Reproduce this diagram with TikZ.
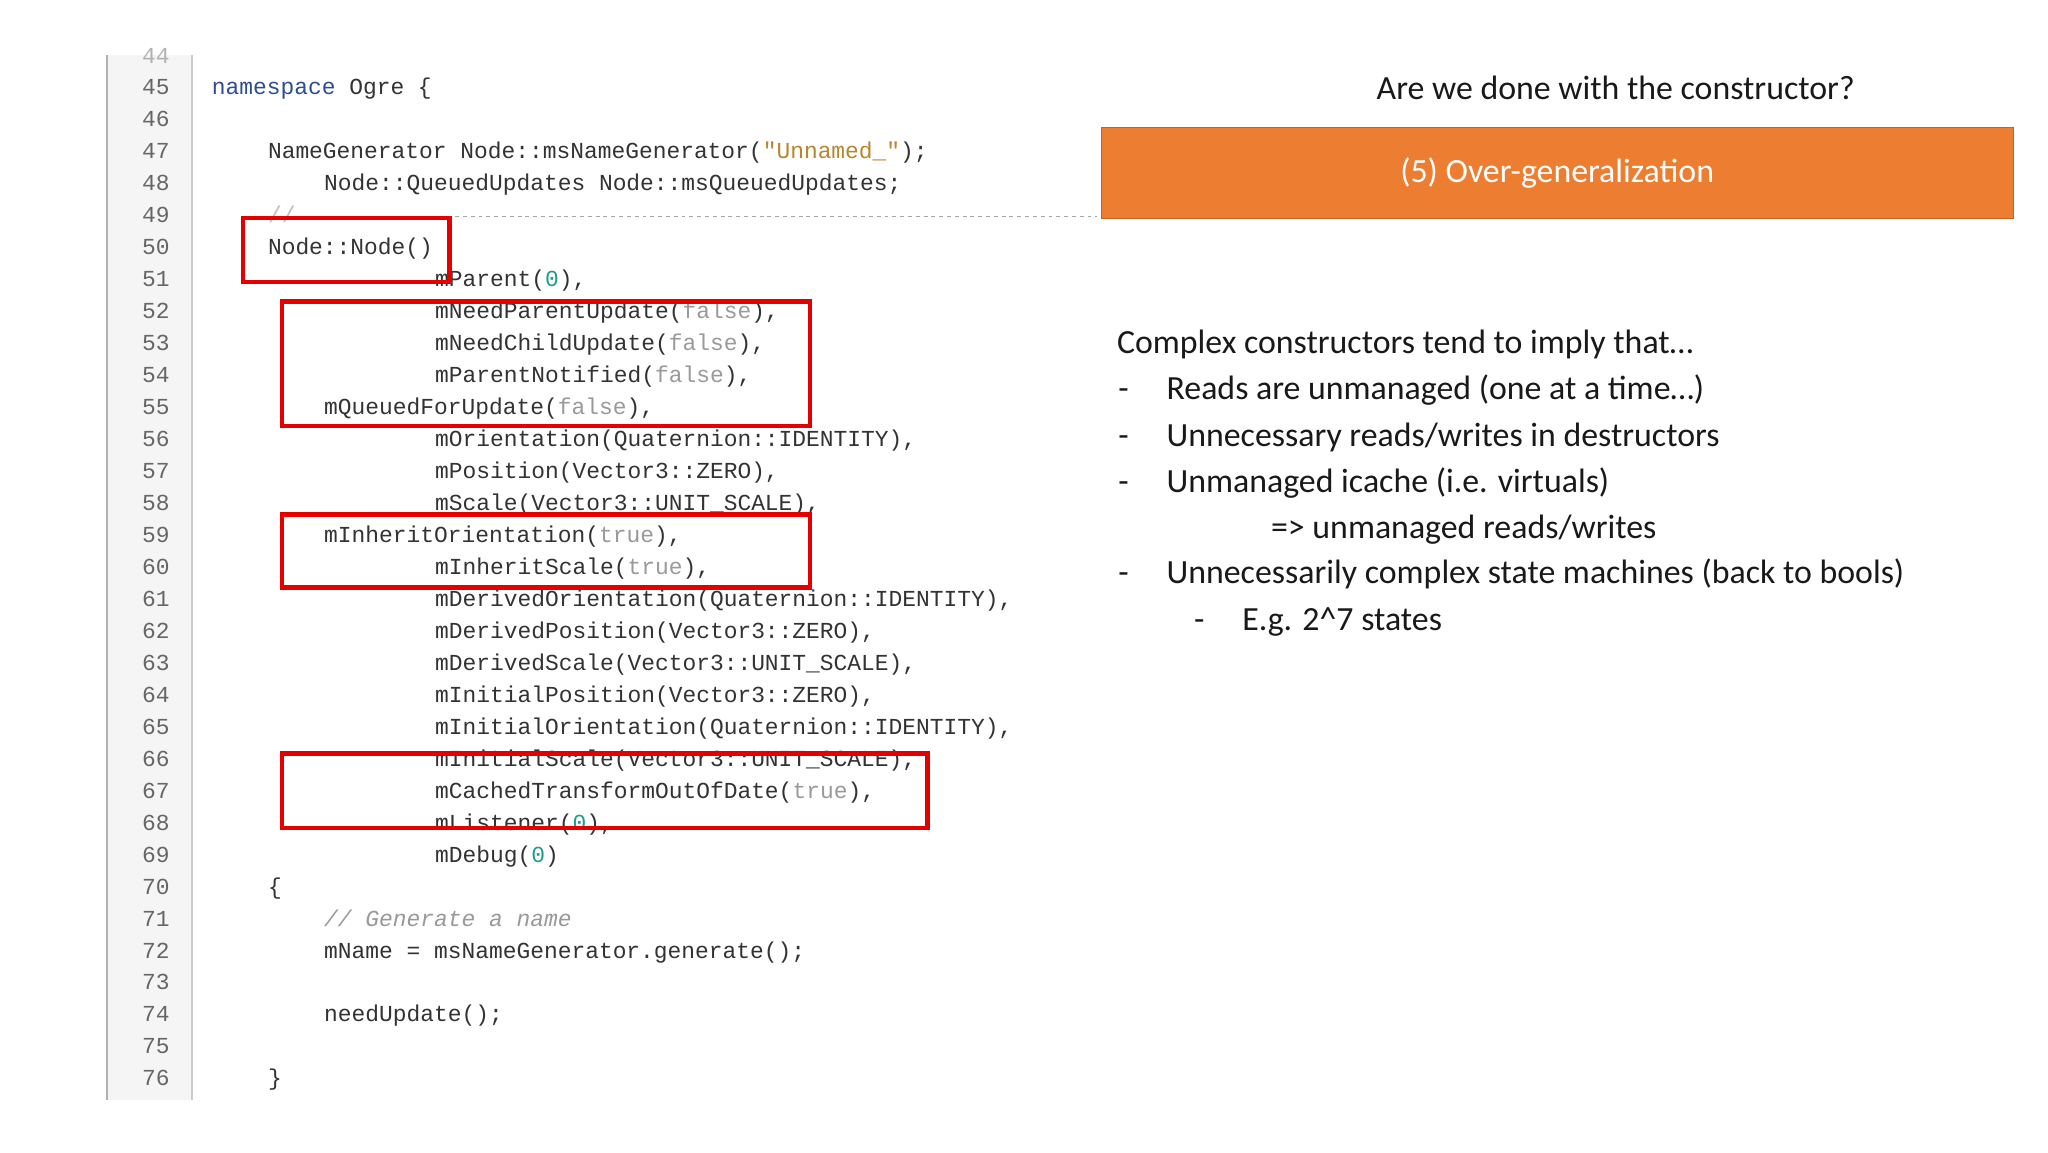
\documentclass[tikz,border=0pt]{standalone}
\usepackage{fontspec}
\setmainfont{Carlito}
\newfontfamily\codefont{Liberation Mono}
\begin{document}
\begin{tikzpicture}[x=1bp,y=-1bp,
  code/.style={anchor=west,inner sep=0,font=\codefont\fontsize{17.6}{20}\selectfont,text=black!80,text height=12bp,text depth=3bp},
  lnum/.style={anchor=east,inner sep=0,font=\codefont\fontsize{17.6}{20}\selectfont,text=black!60,text height=12bp,text depth=3bp},
  body/.style={anchor=west,inner sep=0,font=\fontsize{26}{30}\selectfont,text=black!90,text height=18bp,text depth=6bp},
  redbox/.style={draw=red!90!black,line width=3.5bp},
  kw/.style={}]
\definecolor{kwc}{HTML}{2E4E8F}\definecolor{strc}{HTML}{B8862B}\definecolor{numc}{HTML}{1E9C8C}\definecolor{boolc}{HTML}{9A9A9A}\definecolor{orng}{HTML}{ED7D31}
\useasboundingbox (0,0) rectangle (1568,882);
\fill[white] (0,0) rectangle (1568,882);
% gutter
\fill[black!4] (82,42) rectangle (147,842);
\draw[black!30,line width=1bp] (82,42) -- (82,842);
\draw[black!20,line width=1bp] (147,42) -- (147,842);
\node[lnum,text=black!30] (n44) at (130,44) {44};
\foreach \n [evaluate=\n as \yy using {68+(\n-45)*24.48}] in {45,...,76} {
  \node[lnum] (n\n) at (130,\yy) {\n};
}
\draw[black!35,dashed,line width=1bp] (205,166) -- (840,166);
% code
\newcommand{\yl}[1]{68+(#1-45)*24.48}
\node[code] (c45) at (162,{\yl{45}}) {\textcolor{kwc}{namespace} Ogre \{};
\node[code] (c47) at (205,{\yl{47}}) {NameGenerator Node::msNameGenerator(\textcolor{strc}{"Unnamed\_"});};
\node[code] (c48) at (248,{\yl{48}}) {Node::QueuedUpdates Node::msQueuedUpdates;};
\node[code,text=black!25] (c49) at (205,{\yl{49}}) {//};
\node[code] (c50) at (205,{\yl{50}}) {Node::Node()};
\node[code] (c51) at (333,{\yl{51}}) {mParent(\textcolor{numc}{0}),};
\node[code] (c52) at (333,{\yl{52}}) {mNeedParentUpdate(\textcolor{boolc}{false}),};
\node[code] (c53) at (333,{\yl{53}}) {mNeedChildUpdate(\textcolor{boolc}{false}),};
\node[code] (c54) at (333,{\yl{54}}) {mParentNotified(\textcolor{boolc}{false}),};
\node[code] (c55) at (248,{\yl{55}}) {mQueuedForUpdate(\textcolor{boolc}{false}),};
\node[code] (c56) at (333,{\yl{56}}) {mOrientation(Quaternion::IDENTITY),};
\node[code] (c57) at (333,{\yl{57}}) {mPosition(Vector3::ZERO),};
\node[code] (c58) at (333,{\yl{58}}) {mScale(Vector3::UNIT\_SCALE),};
\node[code] (c59) at (248,{\yl{59}}) {mInheritOrientation(\textcolor{boolc}{true}),};
\node[code] (c60) at (333,{\yl{60}}) {mInheritScale(\textcolor{boolc}{true}),};
\node[code] (c61) at (333,{\yl{61}}) {mDerivedOrientation(Quaternion::IDENTITY),};
\node[code] (c62) at (333,{\yl{62}}) {mDerivedPosition(Vector3::ZERO),};
\node[code] (c63) at (333,{\yl{63}}) {mDerivedScale(Vector3::UNIT\_SCALE),};
\node[code] (c64) at (333,{\yl{64}}) {mInitialPosition(Vector3::ZERO),};
\node[code] (c65) at (333,{\yl{65}}) {mInitialOrientation(Quaternion::IDENTITY),};
\node[code] (c66) at (333,{\yl{66}}) {mInitialScale(Vector3::UNIT\_SCALE),};
\node[code] (c67) at (333,{\yl{67}}) {mCachedTransformOutOfDate(\textcolor{boolc}{true}),};
\node[code] (c68) at (333,{\yl{68}}) {mListener(\textcolor{numc}{0}),};
\node[code] (c69) at (333,{\yl{69}}) {mDebug(\textcolor{numc}{0})};
\node[code] (c70) at (205,{\yl{70}}) {\{};
\node[code,text=black!40,font=\codefont\itshape\fontsize{17.6}{20}\selectfont] (c71) at (248,{\yl{71}}) {// Generate a name};
\node[code] (c72) at (248,{\yl{72}}) {mName = msNameGenerator.generate();};
\node[code] (c74) at (248,{\yl{74}}) {needUpdate();};
\node[code] (c76) at (205,{\yl{76}}) {\}};
% red boxes
\draw[redbox] (186,167) rectangle (344,216);
\draw[redbox] (216,231) rectangle (620,326);
\draw[redbox] (216,394) rectangle (620,450);
\draw[redbox] (216,577) rectangle (710,634);
% right side
\node[anchor=center,inner sep=0,font=\fontsize{26}{30}\selectfont,text=black!90] (title) at (1237,67) {Are we done with the constructor?};
\node[draw=orng!80!black,fill=orng,minimum width=698bp,minimum height=70bp,inner sep=0,anchor=north west,text=white,font=\fontsize{26}{30}\selectfont] (banner) at (843,97) {(5) Over-generalization};
\node[body] (t0) at (855,265) {Complex constructors tend to imply that…};
\node[body] (d1) at (856,300) {-}; \node[body] (t1) at (893,300) {Reads are unmanaged (one at a time…)};
\node[body] (d2) at (856,336) {-}; \node[body] (t2) at (893,336) {Unnecessary reads/writes in destructors};
\node[body] (d3) at (856,371) {-}; \node[body] (t3) at (893,371) {Unmanaged icache (i.e. virtuals)};
\node[body] (t4) at (973,406) {=> unmanaged reads/writes};
\node[body] (d5) at (856,441) {-}; \node[body] (t5) at (893,441) {Unnecessarily complex state machines (back to bools)};
\node[body] (d6) at (914,477) {-}; \node[body] (t6) at (951,477) {E.g. 2\textasciicircum7 states};
\end{tikzpicture}
\end{document}
